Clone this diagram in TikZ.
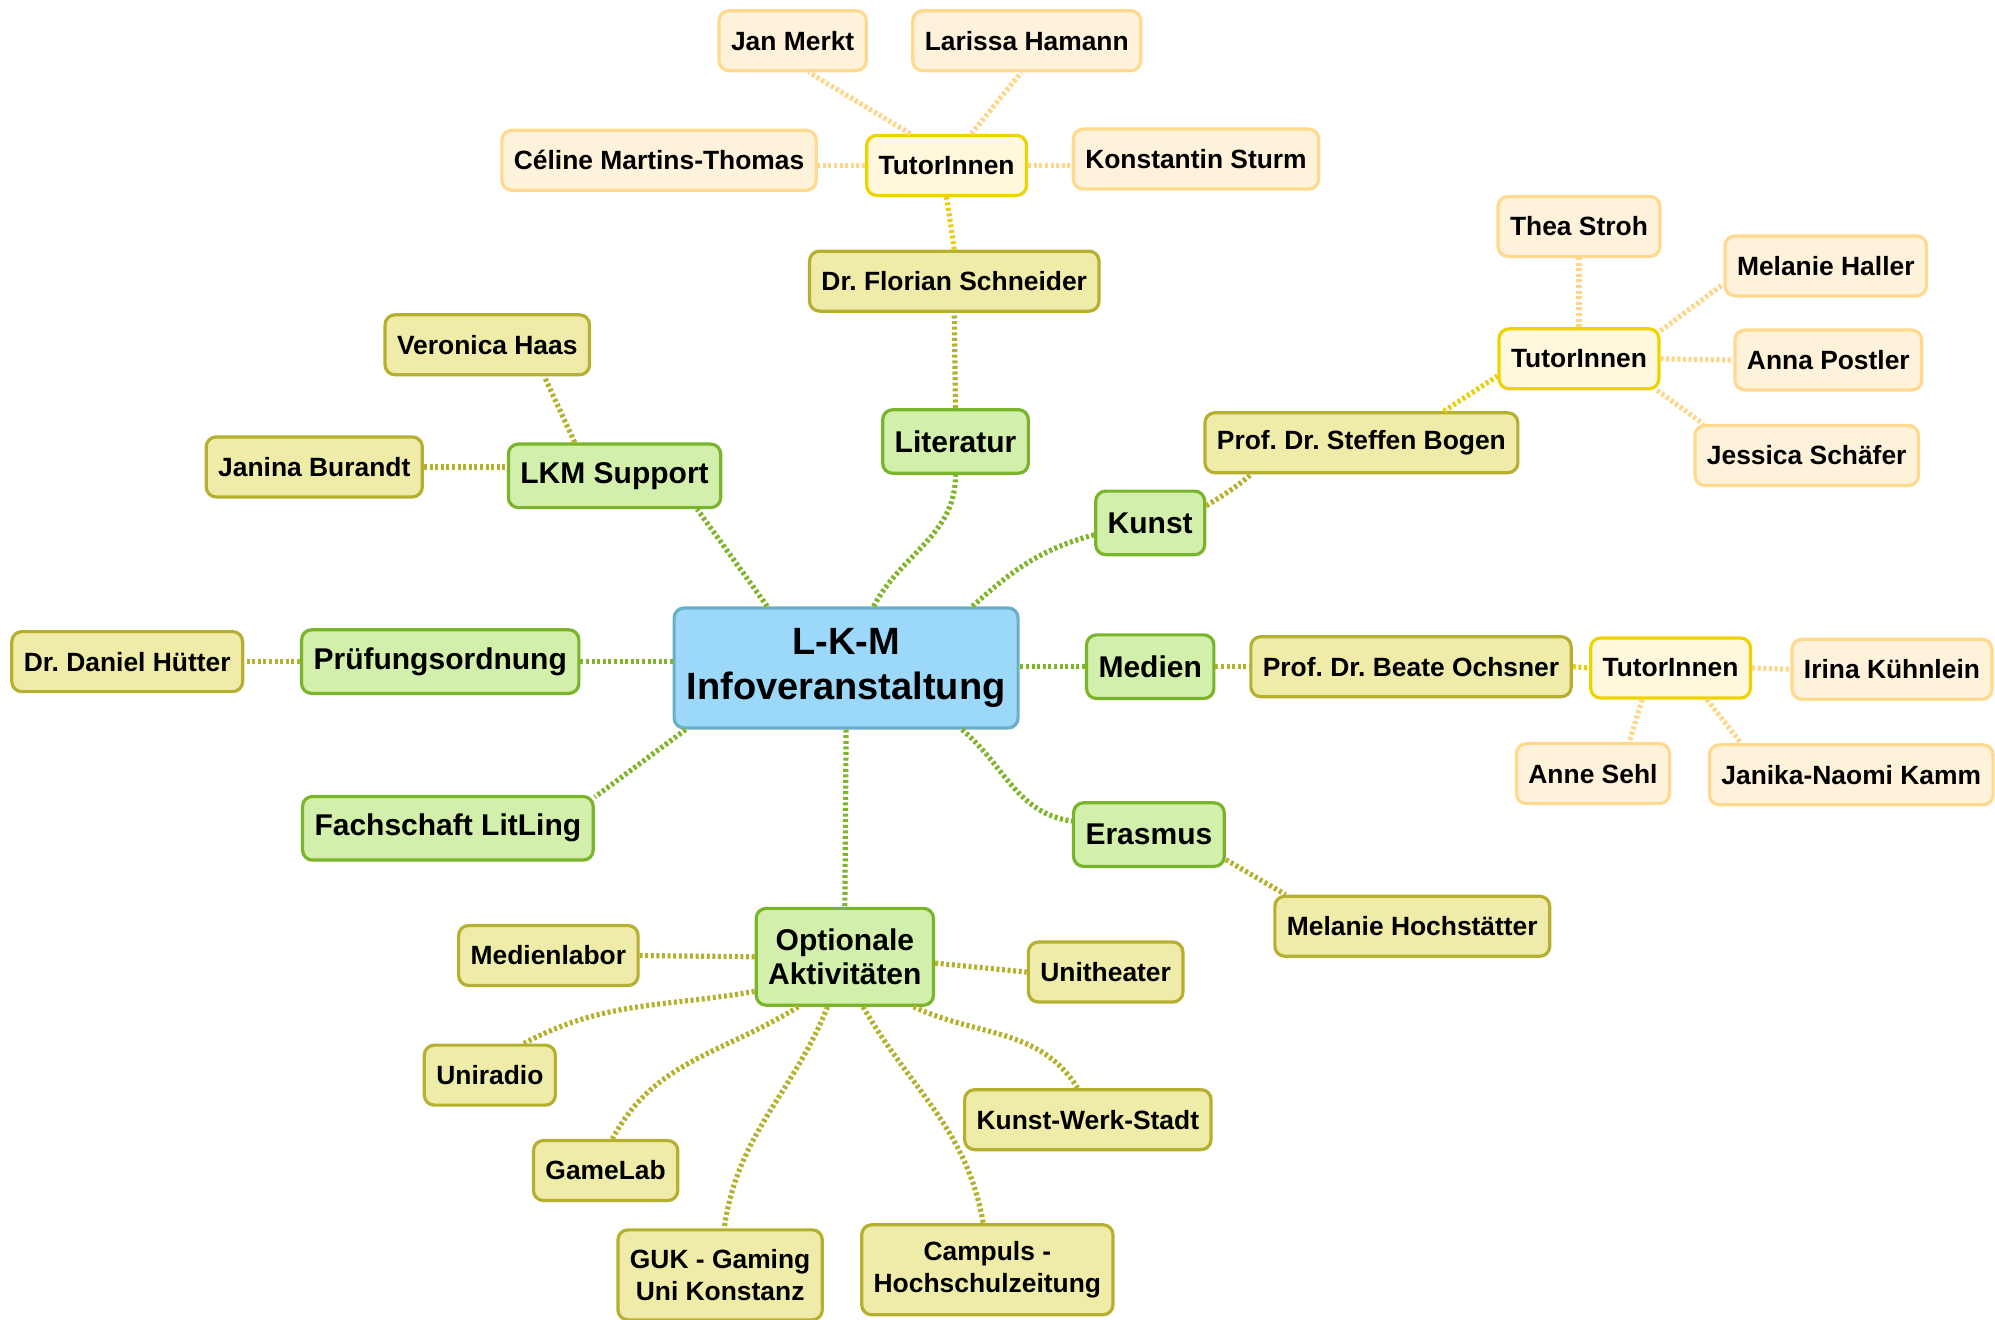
\documentclass[tikz,border=0pt]{standalone}
\usepackage{fontspec}
\setmainfont{Liberation Sans}
\usepackage{xcolor}
\definecolor{hubfill}{HTML}{9CD8FA}
\definecolor{hubline}{HTML}{6AAFC5}
\definecolor{topicfill}{HTML}{D2EFAB}
\definecolor{topicline}{HTML}{7AB42B}
\definecolor{personfill}{HTML}{EFEBA9}
\definecolor{personline}{HTML}{B6B030}
\definecolor{tutorfill}{HTML}{FFF8DD}
\definecolor{tutorline}{HTML}{EDD400}
\definecolor{leaffill}{HTML}{FFF2DA}
\definecolor{leafline}{HTML}{FFDA8E}
\definecolor{hublink}{HTML}{80B52A}
\definecolor{topiclink}{HTML}{B5B12C}
\definecolor{personlink}{HTML}{E8D010}
\definecolor{tutorlink}{HTML}{FFD685}
\usepackage{tikz}
\usetikzlibrary{positioning,calc}
\frenchspacing

\begin{document}
\begin{tikzpicture}[
    x=0.6362pt, y=-0.6362pt,
    box/.style={rectangle, rounded corners=5pt, line width=1.6pt, align=center, inner xsep=6pt, text=black},
    hub/.style={box, fill=hubfill, draw=hubline, minimum width=172pt, minimum height=60pt, font=\fontsize{19}{22.5}\selectfont\bfseries},
    topic/.style={box, fill=topicfill, draw=topicline, minimum height=31.8pt, font=\fontsize{15}{17}\selectfont\bfseries},
    person/.style={box, fill=personfill, draw=personline, minimum height=30pt, font=\fontsize{13.2}{16}\selectfont\bfseries},
    tutors/.style={box, fill=tutorfill, draw=tutorline, minimum height=30pt, font=\fontsize{13.2}{16}\selectfont\bfseries},
    helper/.style={box, fill=leaffill, draw=leafline, minimum height=30pt, font=\fontsize{13.2}{16}\selectfont\bfseries},
    link/.style={line width=2.6pt, dash pattern=on 1.5pt off 1.3pt},
    hubl/.style={link, draw=hublink},
    topicl/.style={link, draw=topiclink},
    personl/.style={link, draw=personlink},
    tutorl/.style={link, draw=tutorlink}
  ]
    \useasboundingbox (0,0) rectangle (1568,1037);

    \node[hub] (ctr) at (665,525) {L-K-M\\Infoveranstaltung};

    \node[topic] (lit) at (751,347) {Literatur};
    \node[topic] (lkm) at (483,374) {LKM Support};
    \node[topic] (kunst) at (904,411) {Kunst};
    \node[topic] (pruef) at (346,520) {Prüfungsordnung};
    \node[topic] (medien) at (904,524) {Medien};
    \node[topic] (fach) at (352,651) {Fachschaft LitLing};
    \node[topic] (erasmus) at (903,656) {Erasmus};
    \node[topic, minimum height=48.4pt] (opt) at (664,752) {Optionale\\Aktivitäten};

    \node[person] (flo) at (750,221) {Dr. Florian Schneider};
    \node[person] (veronica) at (383,271) {Veronica Haas};
    \node[person] (janina) at (247,367) {Janina Burandt};
    \node[person] (bogen) at (1070,348) {Prof. Dr. Steffen Bogen};
    \node[person] (huetter) at (100,520) {Dr. Daniel Hütter};
    \node[person] (ochsner) at (1109,524) {Prof. Dr. Beate Ochsner};
    \node[person] (hoch) at (1110,728) {Melanie Hochstätter};
    \node[person] (medlab) at (431,751) {Medienlabor};
    \node[person] (unith) at (869,764) {Unitheater};
    \node[person] (uniradio) at (385,845) {Uniradio};
    \node[person] (kws) at (855,880) {Kunst-Werk-Stadt};
    \node[person] (gamelab) at (476,920) {GameLab};
    \node[person, minimum height=45pt] (guk) at (566,1002) {GUK - Gaming\\Uni Konstanz};
    \node[person, minimum height=45pt] (campuls) at (776,998) {Campuls -\\Hochschulzeitung};

    \node[tutors] (tutA) at (744,130) {TutorInnen};
    \node[tutors] (tutB) at (1241,282) {TutorInnen};
    \node[tutors] (tutC) at (1313,525) {TutorInnen};

    \node[helper] (merkt) at (623,32) {Jan Merkt};
    \node[helper] (hamann) at (807,32) {Larissa Hamann};
    \node[helper] (martins) at (518,126) {Céline Martins-Thomas};
    \node[helper] (sturm) at (940,125) {Konstantin Sturm};
    \node[helper] (stroh) at (1241,178) {Thea Stroh};
    \node[helper] (haller) at (1435,209) {Melanie Haller};
    \node[helper] (postler) at (1437,283) {Anna Postler};
    \node[helper] (schaefer) at (1420,358) {Jessica Schäfer};
    \node[helper] (kuehnlein) at (1487,526) {Irina Kühnlein};
    \node[helper] (sehl) at (1252,608) {Anne Sehl};
    \node[helper] (kamm) at (1455,609) {Janika-Naomi Kamm};

    \draw[hubl] (ctr.66) to[out=62,in=-90] (lit.south);
    \draw[hubl] (ctr.142) -- (lkm.-22);
    \draw[hubl] (ctr.26) to[out=42,in=195] (kunst.192);
    \draw[hubl] (medien.west) -- (medien.west -| ctr.east);
    \draw[hubl] (ctr.-28) to[out=-40,in=172] (erasmus.170);
    \draw[hubl] (ctr.south) -- (opt.north);
    \draw[hubl] (ctr.201) -- (fach.12);
    \draw[hubl] (pruef.east) -- (pruef.east -| ctr.west);

    \draw[topicl] (lit.north) -- (flo.south);
    \draw[topicl] (lkm.140) -- (veronica.-29);
    \draw[topicl] (janina.east) -- (janina.east -| lkm.west);
    \draw[topicl] (kunst.17) to[out=32,in=-140] (bogen.196);
    \draw[topicl] (pruef.west) -- (huetter.east);
    \draw[topicl] (medien.east) -- (ochsner.west);
    \draw[topicl] (erasmus.-18) -- (hoch.166);
    \draw[topicl] (opt.west) -- (medlab.east);
    \draw[topicl] (opt.-4) -- (unith.west);
    \draw[topicl] (opt.201) to[out=190,in=28] (uniradio.43);
    \draw[topicl] (opt.227) to[out=212,in=62] (gamelab.78);
    \draw[topicl] (opt.251) to[out=248,in=82] (guk.85);
    \draw[topicl] (opt.-70) to[out=-60,in=100] (campuls.95);
    \draw[topicl] (opt.-36) to[out=-25,in=122] (kws.108);

    \draw[personl] (flo.north) -- (tutA.south);
    \draw[personl] (bogen.21) -- (tutB.192);
    \draw[personl] (ochsner.east) -- (tutC.west);

    \draw[tutorl] (tutA.139) -- (merkt.-63);
    \draw[tutorl] (tutA.52) -- (hamann.260);
    \draw[tutorl] (tutA.west) -- (tutA.west -| martins.east);
    \draw[tutorl] (tutA.east) -- (tutA.east -| sturm.west);
    \draw[tutorl] (tutB.north) -- (stroh.south);
    \draw[tutorl] (tutB.19) -- (haller.190);
    \draw[tutorl] (tutB.east) -- (postler.west);
    \draw[tutorl] (tutB.-22) -- (schaefer.163);
    \draw[tutorl] (tutC.east) -- (kuehnlein.west);
    \draw[tutorl] (tutC.228) -- (sehl.41);
    \draw[tutorl] (tutC.-41) -- (kamm.164);
  \end{tikzpicture}
\end{document}
